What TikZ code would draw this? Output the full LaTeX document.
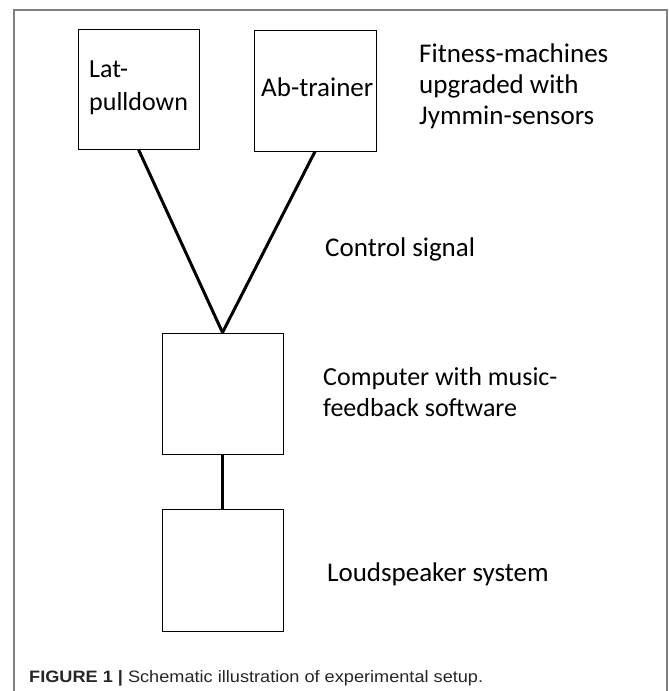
\documentclass[tikz,border=0pt]{standalone}
\usepackage{fontspec}
\setmainfont{Carlito}
\newfontfamily\capfont[FakeStretch=1.1]{Liberation Sans}
\begin{document}
\begin{tikzpicture}[x=1pt,y=-1pt,
  box/.style={draw=black, line width=1pt, inner sep=0pt},
  conn/.style={line width=3pt, draw=black},
  lbl/.style={font=\fontsize{26}{31.5}\selectfont, inner sep=0pt, anchor=base west},
  mid/.style={lbl, font=\fontsize{27}{32}\selectfont},
  frame/.style={draw=gray, line width=1.5pt}]
\useasboundingbox (0,0) rectangle (669,691);
\draw[frame] (14,691) -- (14,10) -- (667,10) -- (667,691);
% boxes
\node[box, minimum width=121pt, minimum height=120pt] (lat) at (138.5,89) {};
\node[box, minimum width=122pt, minimum height=121pt] (ab) at (315,90.5) {};
\node[box, minimum width=121pt, minimum height=121pt] (comp) at (222.5,393.5) {};
\node[box, minimum width=121pt, minimum height=122pt] (spk) at (222.5,570) {};
% connectors
\draw[conn] (lat.south) -- (comp.north);
\draw[conn] (ab.south) -- (comp.north);
\draw[conn] (comp.south) -- (spk.north);
% labels
\node[lbl] (latA) at (89,77) {Lat-};
\node[lbl] (latB) at (89,110) {pulldown};
\node[mid] (abt) at (261,96) {Ab-trainer};
\node[mid] (fitA) at (419,62) {Fitness-machines};
\node[mid] (fitB) at (419,93) {upgraded with};
\node[mid] (fitC) at (419,124.5) {Jymmin-sensors};
\node[mid] (ctrl) at (325,256.7) {Control signal};
\node[lbl] (compA) at (323,385) {Computer with music-};
\node[lbl] (compB) at (323,416) {feedback software};
\node[mid] (spkl) at (327,581.7) {Loudspeaker system};
% caption
\node[font=\capfont\fontsize{16.5}{18}\selectfont, text=black!85, inner sep=0pt, anchor=base west] (cap) at (29,682)
  {\textbf{FIGURE 1 |} Schematic illustration of experimental setup.};
\end{tikzpicture}
\end{document}
